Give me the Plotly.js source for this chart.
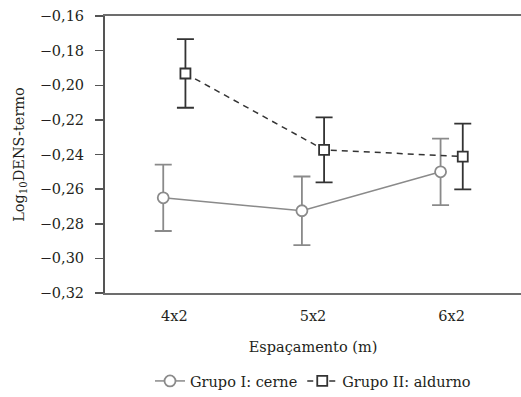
<!DOCTYPE html>
<html>
<head>
<meta charset="utf-8">
<script src="https://cdn.plot.ly/plotly-3.0.1.min.js"></script>
<style>html,body{margin:0;padding:0;background:#fff;}#chart{width:521px;height:397px;}</style>
</head>
<body>
<div id="chart"></div>
<script>
var categories = ['4x2', '5x2', '6x2'];
var groupINames = 'Grupo I: cerne';
var groupIINames = 'Grupo II: aldurno';
var groupIMean = [-0.265, -0.2725, -0.250];
var groupIErr = [0.0192, 0.0198, 0.0192];
var groupIIMean = [-0.1932, -0.2373, -0.2412];
var groupIIErr = [0.0198, 0.0188, 0.019];
var yTicks = [-0.32, -0.30, -0.28, -0.26, -0.24, -0.22, -0.20, -0.18, -0.16];

var dodge = 0.08;
var idx = categories.map(function(c, i){ return i; });
var xI = idx.map(function(i){ return i - dodge; });
var xII = idx.map(function(i){ return i + dodge; });

var font = 'DejaVu Serif';
var fs = 14.5;
var gI = '#8a8a8a', gII = '#333333';

var traces = [
  {
    x: xI, y: groupIMean, name: groupINames, type: 'scatter', mode: 'lines+markers',
    line: {color: gI, width: 1.5},
    marker: {symbol: 'circle', size: 11, color: '#ffffff', line: {color: gI, width: 1.8}},
    error_y: {type: 'data', array: groupIErr, visible: true, color: gI, thickness: 1.8, width: 8.5}
  },
  {
    x: xII, y: groupIIMean, name: groupIINames, type: 'scatter', mode: 'lines+markers',
    line: {color: gII, width: 1.5, dash: '6px,5px'},
    marker: {symbol: 'square', size: 10, color: '#ffffff', line: {color: gII, width: 1.8}},
    error_y: {type: 'data', array: groupIIErr, visible: true, color: gII, thickness: 1.8, width: 8.5}
  }
];

var layout = {
  width: 521, height: 397,
  margin: {l: 105, r: 0, t: 16, b: 104},
  paper_bgcolor: '#ffffff', plot_bgcolor: '#ffffff',
  font: {family: font, size: fs, color: '#231f20'},
  separators: ',.',
  showlegend: true,
  legend: {orientation: 'h', x: 0.5, xanchor: 'center', y: -0.318, yanchor: 'middle',
           font: {family: font, size: fs, color: '#231f20'}, itemwidth: 30},
  xaxis: {
    range: [-0.5, 2.5], tickvals: idx, ticktext: categories,
    showgrid: false, zeroline: false,
    showline: true, linecolor: '#6d6d6d', linewidth: 2, mirror: true,
    ticks: '', ticklabelstandoff: 9,
    tickfont: {family: font, size: fs},
    title: {text: 'Espaçamento (m)', standoff: 18, font: {family: font, size: fs}}
  },
  yaxis: {
    range: [-0.32, -0.16], tickvals: yTicks, tickformat: '.2f',
    showgrid: false, zeroline: false,
    showline: true, linecolor: '#555555', linewidth: 2,
    ticks: 'outside', ticklen: 8, tickwidth: 1.5, tickcolor: '#555555',
    ticklabelstandoff: 8,
    tickfont: {family: font, size: fs},
    title: {text: 'Log<sub>10</sub>DENS-termo', standoff: 12, font: {family: font, size: fs}}
  }
};

Plotly.newPlot('chart', traces, layout, {displayModeBar: false, staticPlot: true});
</script>
</body>
</html>
